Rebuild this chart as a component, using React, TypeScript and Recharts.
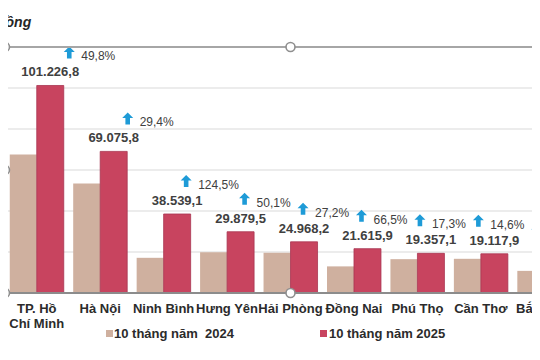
import React from 'react';
import { BarChart, Bar, XAxis, YAxis, CartesianGrid, LabelList, Legend } from 'recharts';

// ---- data ----
const provinces = ['TP. Hồ\nChí Minh', 'Hà Nội', 'Ninh Bình', 'Hưng Yên', 'Hải Phòng', 'Đồng Nai', 'Phú Thọ', 'Cần Thơ', 'Bắc Ninh'];
const revenue2024 = [67575.0, 53382.4, 17166.6, 19906.4, 19629.1, 12982.5, 16502.2, 16682.3, 10795.0];
const revenue2025 = [101226.8, 69075.8, 38539.1, 29879.5, 24968.2, 21615.9, 19357.1, 19117.9, 14652.3];
const growthPct = [49.8, 29.4, 124.5, 50.1, 27.2, 66.5, 17.3, 14.6, 35.7];
const yTicks = [0, 20000, 40000, 60000, 80000, 100000, 120000];
const seriesNames = ['10 tháng năm  2024', '10 tháng năm 2025'];
const unitLabel = 'đồng';

const data = provinces.map((p, i) => ({ name: p, y2024: revenue2024[i], y2025: revenue2025[i] }));

// ---- layout / style ----
const FONT = '"Liberation Sans", Arial, sans-serif';
const COLOR_2024 = '#CFB09F';
const COLOR_2025 = '#C8445F';
const ARROW = '#1E9BD7';
const CHART_W = 600;
const CHART_H = 360;
const M = { top: 47, right: 24, bottom: 37, left: 5 };
const X_AXIS_H = 30;
const plotLeft = M.left;
const plotRight = CHART_W - M.right;
const plotTop = M.top;
const plotBottom = CHART_H - M.bottom - X_AXIS_H;
const chartAreaCenterX = 273;

const fmtVN = (v: number, digits = 1) => {
  const [int, dec] = v.toFixed(digits).split('.');
  const intS = int.replace(/\B(?=(\d{3})+(?!\d))/g, '.');
  return dec ? intS + ',' + dec : intS;
};

const CategoryTick = (props: any) => {
  const { x, y, payload } = props;
  const lines = String(payload.value).split('\n');
  return (
    <text x={x} y={y} textAnchor="middle" fontSize={13} fontWeight="bold" fill="#2b2b2b" fontFamily={FONT}>
      {lines.map((l, i) => (
        <tspan key={i} x={x} dy={i === 0 ? 12 : 15}>{l}</tspan>
      ))}
    </text>
  );
};

const GrowthLabel = (props: any) => {
  const { x, y, width, index } = props;
  const bx = Number(x) + Number(width) / 2 + 19 - 5 * index;
  const cy = Number(y) - 31;
  const top = cy - 8;
  const d = `M${bx},${top} L${bx + 5.5},${top + 5.5} L${bx + 2.3},${top + 5.5} L${bx + 2.3},${top + 12} L${bx - 2.3},${top + 12} L${bx - 2.3},${top + 5.5} L${bx - 5.5},${top + 5.5} Z`;
  return (
    <g>
      <path d={d} fill={ARROW} />
      <text x={bx + 12} y={cy + 2} dominantBaseline="central" fontSize={12} fill="#404040" fontFamily={FONT}>
        {fmtVN(growthPct[index], 1)}%
      </text>
    </g>
  );
};

const renderLegend = () => (
  <div style={{ display: 'flex', alignItems: 'center', fontFamily: FONT, fontSize: 13, fontWeight: 'bold', color: '#2b2b2b', whiteSpace: 'pre' }}>
    <span style={{ display: 'inline-block', width: 7, height: 7, background: COLOR_2024, marginRight: 1 }} />
    <span style={{ marginRight: 86 }}>{seriesNames[0]}</span>
    <span style={{ display: 'inline-block', width: 7, height: 7, background: COLOR_2025, marginRight: 2 }} />
    <span>{seriesNames[1]}</span>
  </div>
);

const Handle = ({ cx, cy }: { cx: number; cy: number }) => (
  <circle cx={cx} cy={cy} r={4.5} fill="#fff" stroke="#8f8f8f" strokeWidth={1.6} />
);

export default function App() {
  const midX = (plotLeft + plotRight) / 2;
  const midY = (plotTop + plotBottom) / 2;
  return (
    <div style={{ position: 'relative', margin: -8, width: 540, height: 360, overflow: 'hidden', background: '#fff' }}>
      <BarChart width={CHART_W} height={CHART_H} data={data} margin={M} barGap={0} barCategoryGap="7.5%">
        <CartesianGrid vertical={false} stroke="#D9D9D9" strokeWidth={1} />
        <YAxis hide domain={[0, 120000]} ticks={yTicks} />
        <XAxis dataKey="name" interval={0} height={X_AXIS_H} tickLine={false} axisLine={{ stroke: '#8C8C8C', strokeWidth: 2 }} tick={<CategoryTick />} />
        <Legend verticalAlign="middle" align="center" layout="horizontal" wrapperStyle={{ top: 326, left: 106, width: 440, height: 18 }} content={renderLegend} />
        <Bar dataKey="y2024" name={seriesNames[0]} fill={COLOR_2024} isAnimationActive={false} />
        <Bar dataKey="y2025" name={seriesNames[1]} fill={COLOR_2025} stroke="#A83550" strokeWidth={0.8} isAnimationActive={false}>
          <LabelList dataKey="y2025" position="top" offset={9} formatter={(v: any) => fmtVN(Number(v), 1)} style={{ fontFamily: FONT, fontSize: 13, fontWeight: 'bold', fill: '#404040' }} />
          <LabelList dataKey="y2025" content={<GrowthLabel />} />
        </Bar>
      </BarChart>
      <svg width={540} height={360} style={{ position: 'absolute', left: 0, top: 0, pointerEvents: 'none' }}>
        <line x1={0} y1={0.75} x2={540} y2={0.75} stroke="#B0B0B0" strokeWidth={1.5} />
        <line x1={plotLeft} y1={plotTop} x2={plotRight} y2={plotTop} stroke="#A6A6A6" strokeWidth={2} />
        <line x1={plotLeft} y1={plotTop} x2={plotLeft} y2={plotBottom} stroke="#A6A6A6" strokeWidth={1.5} />
        <text x={-3} y={27} fontFamily={FONT} fontSize={14} fontWeight="bold" fontStyle="italic" fill="#262626">{unitLabel}</text>
        <Handle cx={chartAreaCenterX} cy={0} />
        <Handle cx={plotLeft} cy={plotTop} />
        <Handle cx={midX} cy={plotTop} />
        <Handle cx={plotLeft} cy={midY} />
        <Handle cx={plotLeft} cy={plotBottom} />
        <Handle cx={midX} cy={plotBottom} />
      </svg>
    </div>
  );
}
